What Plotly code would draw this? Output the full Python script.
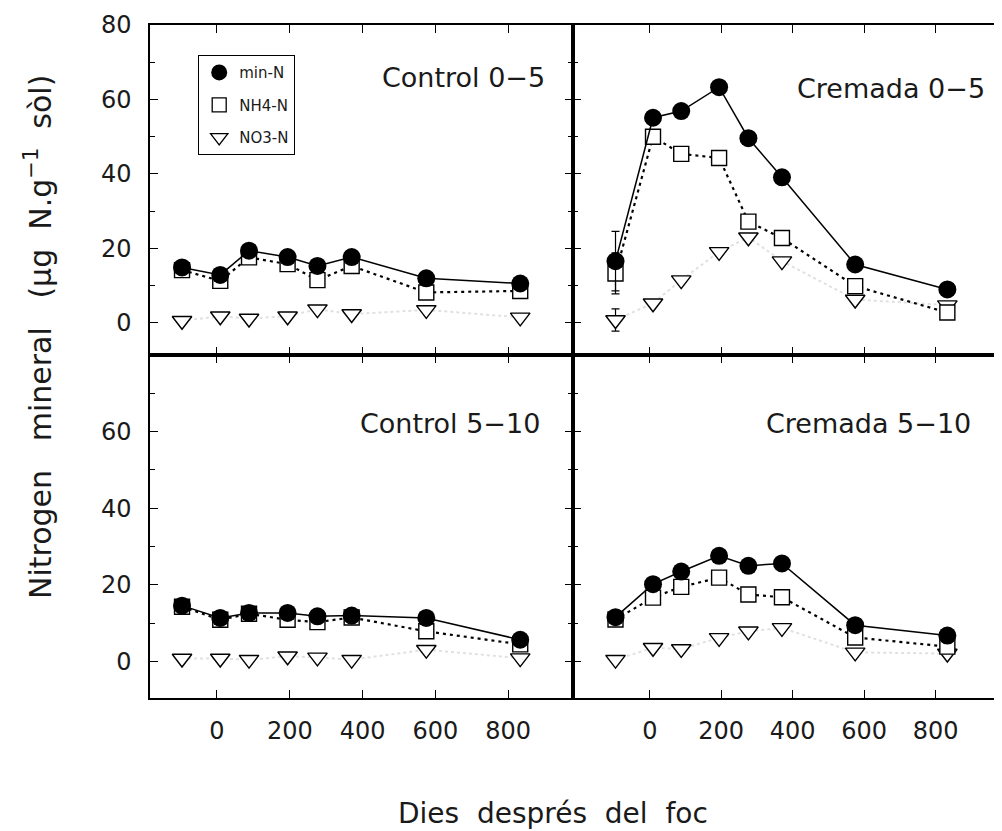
import plotly.graph_objects as go

# ---- data ----
days = [-96, 9, 88, 194, 276, 370, 575, 833]

ctrl05_min = [14.9, 12.9, 19.4, 17.7, 15.3, 17.7, 12.0, 10.6]
ctrl05_nh4 = [14.2, 11.3, 17.6, 15.8, 11.5, 15.3, 8.2, 8.6]
ctrl05_no3 = [0.6, 1.8, 1.2, 1.8, 3.7, 2.4, 3.5, 1.5]

crem05_min = [16.6, 55.1, 56.9, 63.3, 49.6, 39.1, 15.7, 9.0]
crem05_nh4 = [13.3, 50.0, 45.4, 44.3, 27.2, 22.8, 9.9, 2.8]
crem05_no3 = [0.8, 5.3, 11.5, 19.1, 23.0, 16.6, 6.3, 4.8]
crem05_min_err = [8.0, None, None, None, None, None, None, None]
crem05_nh4_err = [5.5, None, None, None, None, None, None, None]
crem05_no3_err = [3.0, None, None, None, None, None, None, None]

ctrl510_min = [14.6, 11.4, 12.7, 12.7, 11.8, 12.0, 11.4, 5.7]
ctrl510_nh4 = [14.3, 10.9, 12.5, 10.9, 10.3, 11.5, 7.9, 4.5]
ctrl510_no3 = [0.8, 0.8, 0.5, 1.4, 1.1, 0.5, 3.1, 0.9]

crem510_min = [11.6, 20.2, 23.5, 27.6, 25.0, 25.6, 9.5, 6.8]
crem510_nh4 = [11.0, 16.7, 19.5, 21.9, 17.5, 16.8, 6.3, 3.9]
crem510_no3 = [0.5, 3.6, 3.3, 6.2, 7.9, 8.8, 2.4, 2.1]

panel_titles = ["Control 0\u22125", "Cremada 0\u22125", "Control 5\u221210", "Cremada 5\u221210"]
series_names = ["min-N", "NH4-N", "NO3-N"]
x_tickvals = [0, 200, 400, 600, 800]
y_tickvals = [0, 20, 40, 60, 80]

FONT = "DejaVu Sans"
INK = "#1a1a1a"

# the page body adds an 8px offset; size the figure so it fits the window
OFF = 8
W, H = 1002 - OFF, 831 - OFF

def px_x(p):
    return (p - OFF) / W

def px_y(p):
    return 1 - (p - OFF) / H

fig = go.Figure()

panels = [
    ("x", "y", ctrl05_min, ctrl05_nh4, ctrl05_no3, None),
    ("x2", "y2", crem05_min, crem05_nh4, crem05_no3,
     (crem05_min_err, crem05_nh4_err, crem05_no3_err)),
    ("x3", "y3", ctrl510_min, ctrl510_nh4, ctrl510_no3, None),
    ("x4", "y4", crem510_min, crem510_nh4, crem510_no3, None),
]

for xa, ya, mn, nh, no, errs in panels:
    e_min = e_nh = e_no = None
    if errs:
        e_min = dict(type="data", array=errs[0], color="black", thickness=1.2, width=4)
        e_nh = dict(type="data", array=errs[1], color="black", thickness=1.2, width=4)
        e_no = dict(type="data", array=errs[2], color="black", thickness=1.2, width=4)
    fig.add_trace(go.Scatter(
        x=days, y=no, xaxis=xa, yaxis=ya, mode="lines+markers", showlegend=False,
        line=dict(color="rgba(0,0,0,0.12)", width=2, dash="dot"),
        marker=dict(symbol="triangle-down", size=17, color="white",
                    line=dict(color="black", width=1.4)),
        error_y=e_no,
    ))
    fig.add_trace(go.Scatter(
        x=days, y=nh, xaxis=xa, yaxis=ya, mode="lines+markers", showlegend=False,
        line=dict(color="black", width=2.2, dash="3px,4px"),
        marker=dict(symbol="square", size=15, color="white",
                    line=dict(color="black", width=1.4)),
        error_y=e_nh,
    ))
    fig.add_trace(go.Scatter(
        x=days, y=mn, xaxis=xa, yaxis=ya, mode="lines+markers", showlegend=False,
        line=dict(color="black", width=1.5),
        marker=dict(symbol="circle", size=18, color="black"),
        error_y=e_min,
    ))

# legend-only entries (markers only, as in the original key)
legend_styles = [
    dict(symbol="circle", size=16, color="black"),
    dict(symbol="square", size=14, color="white", line=dict(color="black", width=1.3)),
    dict(symbol="triangle-down", size=15, color="white", line=dict(color="black", width=1.3)),
]
for i, (nm, mk) in enumerate(zip(series_names, legend_styles)):
    fig.add_trace(go.Scatter(
        x=[None], y=[None], xaxis="x", yaxis="y", mode="markers", name=nm,
        marker=mk, legendgroup=f"g{i}", showlegend=True,
    ))

xl = [px_x(150), px_x(573)]
xr = [px_x(573), 1.0]
yt = [px_y(355), px_y(25)]
yb = [px_y(698), px_y(355)]

def xaxis(domain, anchor, rng, labels):
    return dict(
        domain=domain, anchor=anchor, range=rng, automargin=False,
        tickvals=x_tickvals, ticks="inside", ticklen=8, tickwidth=1.2, tickcolor="black",
        showticklabels=labels, showline=True, linecolor="black", linewidth=1.5,
        mirror="ticks", showgrid=False, zeroline=False,
        tickfont=dict(family=FONT, size=24, color=INK), ticklabelstandoff=10,
    )

def yaxis(domain, anchor, rng, labels, tickvals):
    return dict(
        domain=domain, anchor=anchor, range=rng, automargin=False,
        tickvals=tickvals, ticks="inside", ticklen=8, tickwidth=1.2, tickcolor="black",
        minor=dict(dtick=10, tick0=0, ticks="inside", ticklen=5, tickwidth=1, tickcolor="black"),
        showticklabels=labels, showline=True, linecolor="black", linewidth=1.5,
        mirror="ticks", showgrid=False, zeroline=False,
        tickfont=dict(family=FONT, size=24, color=INK), ticklabelstandoff=12,
    )

xr_left = [-184, 978]
xr_right = [-215, 986]
yr_top = [-8.6, 80]
yr_bot = [-9.5, 80]

fig.update_layout(
    template="none",
    width=W, height=H,
    margin=dict(l=0, r=0, t=0, b=0, pad=0, autoexpand=False),
    paper_bgcolor="white", plot_bgcolor="white",
    xaxis=xaxis(xl, "y", xr_left, False),
    xaxis2=xaxis(xr, "y2", xr_right, False),
    xaxis3=xaxis(xl, "y3", xr_left, True),
    xaxis4=xaxis(xr, "y4", xr_right, True),
    yaxis=yaxis(yt, "x", yr_top, True, y_tickvals),
    yaxis2=yaxis(yt, "x2", yr_top, False, y_tickvals),
    yaxis3=yaxis(yb, "x3", yr_bot, True, y_tickvals[:-1]),
    yaxis4=yaxis(yb, "x4", yr_bot, False, y_tickvals[:-1]),
    legend=dict(
        x=px_x(198), y=px_y(55), xanchor="left", yanchor="top",
        bordercolor="black", borderwidth=1.2, bgcolor="white",
        font=dict(family=FONT, size=15, color=INK),
        tracegroupgap=10, itemwidth=30,
    ),
    showlegend=True,
)

annos = [
    (panel_titles[0], 547, 77),
    (panel_titles[1], 987, 88),
    (panel_titles[2], 542, 423),
    (panel_titles[3], 973, 423),
]
for txt, xp, yp in annos:
    fig.add_annotation(
        text=txt, x=px_x(xp), y=px_y(yp), xref="paper", yref="paper",
        xanchor="right", yanchor="middle", showarrow=False,
        font=dict(family=FONT, size=27, color=INK),
    )

NB = "\u00a0"
fig.add_annotation(
    text=f"Dies{NB}{NB}després{NB}{NB}del{NB}{NB}foc",
    x=px_x(553), y=px_y(813), xref="paper", yref="paper",
    xanchor="center", yanchor="middle", showarrow=False,
    font=dict(family=FONT, size=28, color=INK),
)
G = NB * 3
fig.add_annotation(
    text=f"Nitrogen{G}mineral{G}(μg{NB}{NB}N.g<sup>\u22121</sup>{NB}{NB}sòl)",
    x=px_x(38), y=px_y(337), xref="paper", yref="paper",
    xanchor="center", yanchor="middle", showarrow=False, textangle=-90,
    font=dict(family=FONT, size=30, color=INK),
)

fig.write_html("out.html")
